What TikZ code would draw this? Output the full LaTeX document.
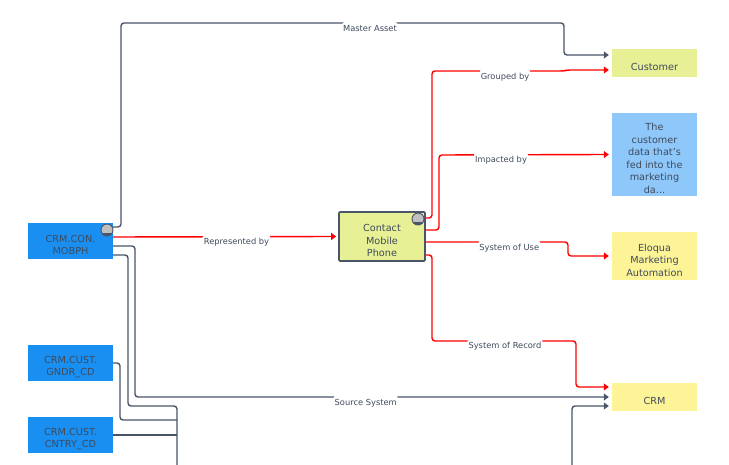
\documentclass[tikz,border=0pt]{standalone}
\usepackage{fontspec}
\setmainfont{DejaVu Sans}
\usetikzlibrary{arrows.meta, positioning}
\definecolor{slate}{HTML}{4A5568}
\definecolor{ink}{HTML}{3F4A5C}
\definecolor{azure}{HTML}{1A8FF2}
\definecolor{skyblue}{HTML}{8EC8FB}
\definecolor{lime}{HTML}{E8F096}
\definecolor{sand}{HTML}{FDF498}
\newcommand{\dn}{\mbox{}\\[2.8pt]}
\tikzset{
	box/.style={rectangle, inner sep=0pt, align=center, text=ink, font=\fontsize{9.7}{12.5}\selectfont, minimum width=85pt},
	link/.style={draw=slate, line width=1.4pt, rounded corners=3pt},
	linkr/.style={draw=red, line width=1.4pt, rounded corners=3pt},
	tip/.style={-{Triangle[length=5pt,width=7pt]}},
	lbl/.style={fill=white, text=ink, inner xsep=1pt, inner ysep=4pt, font=\fontsize{8.3}{10}\selectfont},
	badge/.style={circle, draw=slate, fill=gray!50, line width=0.9pt, minimum size=12pt, inner sep=0pt,
		path picture={\fill[slate] (path picture bounding box.south west) rectangle ([yshift=2.5pt]path picture bounding box.south east);}}
}
\begin{document}
\begin{tikzpicture}[x=1pt, y=-1pt]
	\useasboundingbox (0,0) rectangle (729,465);
	\coordinate (bottomA) at (177,465);
	\coordinate (bottomB) at (572,465);

	\node[box, fill=azure, minimum height=36pt] (mobph) at (70.5,241) {\dn CRM.CON.\\MOBPH};
	\node[box, fill=azure, minimum height=36pt] (gndr) at (70.5,363) {\dn CRM.CUST.\\GNDR\_CD};
	\node[box, fill=azure, minimum height=36pt] (cntry) at (70.5,435) {\dn CRM.CUST.\\CNTRY\_CD};
	\node[box, fill=lime, draw=slate, line width=1.6pt, rounded corners=1pt, minimum width=86pt, minimum height=49pt] (contact) at (382,236.5) {\dn Contact\\Mobile\\Phone};
	\node[box, fill=lime, minimum height=28pt] (customer) at (654.5,63) {\dn Customer};
	\node[box, fill=skyblue, minimum height=83pt] (data) at (654.5,154.5) {\dn The\\customer\\data that's\\fed into the\\marketing\\da...};
	\node[box, fill=sand, minimum height=48pt] (eloqua) at (654.5,256) {\dn Eloqua\\Marketing\\Automation};
	\node[box, fill=sand, minimum height=28pt] (crm) at (654.5,397) {\dn CRM};

	% grey connectors
	\draw[link, tip] ([yshift=14pt]mobph.east) -| (121,23) -- node[lbl, pos=.562, yshift=-6pt] (master) {Master Asset} (564,23) |- ([xshift=-3pt,yshift=8pt]customer.west);
	\draw[link, tip] ([yshift=-5pt]mobph.east) -| (135,397) -- node[lbl, pos=.487, yshift=-6pt] (source) {Source System} ([xshift=-3pt]crm.west);
	\draw[link] ([yshift=-14pt]mobph.east) -| (128,406) -| (bottomA);
	\draw[link] (gndr.east) -| (120,420) -- (177,420);
	\draw[link] (cntry.east) -- (177,435);
	\draw[link, tip] (bottomB) |- ([xshift=-3pt,yshift=-9pt]crm.west);

	% red connectors
	\draw[linkr, tip] ([yshift=4pt]mobph.east) -- node[lbl, pos=.553, yshift=-5pt] (repr) {Represented by} ([xshift=-2pt,yshift=4.5pt]contact.west |- mobph.east);
	\draw[linkr, tip] ([yshift=18.5pt]contact.east) -| (432,71) -- node[lbl, pos=.553, yshift=-6pt] (grouped) {Grouped by} (564,71) -- (567,70) -- ([xshift=-3pt,yshift=-7pt]customer.west);
	\draw[linkr, tip] ([yshift=6.5pt]contact.east) -| (439,155) -- node[lbl, pos=.365, yshift=-5pt] (impacted) {Impacted by} ([xshift=-3pt]data.west);
	\draw[linkr, tip] ([yshift=-5.5pt]contact.east) -- node[lbl, pos=.587, yshift=-6pt] (use) {System of Use} (568,242) |- ([xshift=-3pt]eloqua.west);
	\draw[linkr, tip] ([yshift=-18.5pt]contact.east) -| (432,341) -- node[lbl, pos=.507, yshift=-5pt] (record) {System of Record} (576,341) |- ([xshift=-3pt,yshift=10pt]crm.west);

	\node[badge] (badgeA) at (107,230) {};
	\node[badge] (badgeB) at (418,219) {};
\end{tikzpicture}
\end{document}
